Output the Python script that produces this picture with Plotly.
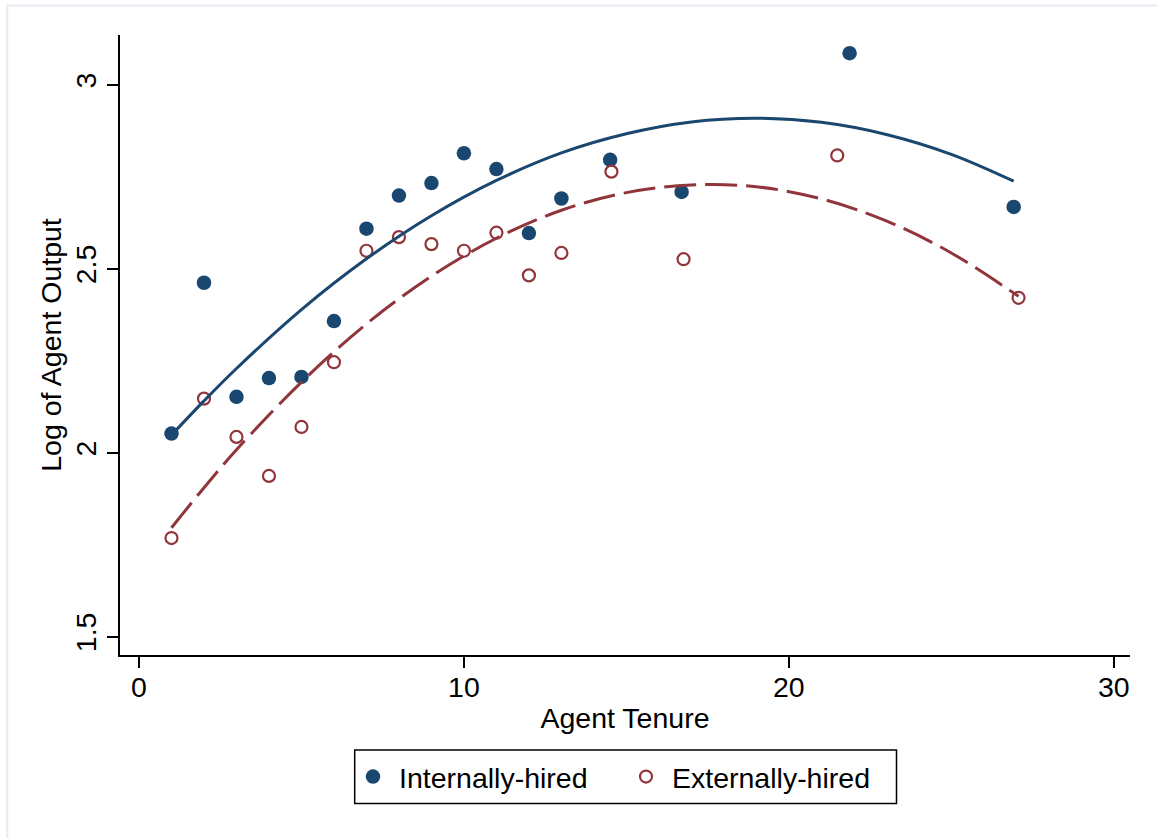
import plotly.graph_objects as go

# ---- data ----
int_tenure = [1, 2, 3, 4, 5, 6, 7, 8, 9, 10, 11, 12, 13, 14.5, 16.7, 21.87, 26.92]
int_output = [2.052, 2.462, 2.152, 2.203, 2.206, 2.358, 2.609, 2.699, 2.733, 2.814,
              2.771, 2.597, 2.691, 2.796, 2.709, 3.086, 2.668]

ext_tenure = [1, 2, 3, 4, 5, 6, 7, 8, 9, 10, 11, 12, 13, 14.54, 16.76, 21.49, 27.07]
ext_output = [1.768, 2.147, 2.043, 1.937, 2.070, 2.246, 2.549, 2.586, 2.567, 2.549,
              2.598, 2.482, 2.543, 2.764, 2.526, 2.808, 2.421]

# quadratic-fit curves
int_fit_x = [1, 2, 3, 5, 7, 9, 11, 13, 15, 17, 19, 21, 23, 25, 26.92]
int_fit_y = [2.048, 2.141, 2.229, 2.389, 2.527, 2.644, 2.740, 2.815, 2.867, 2.899,
             2.909, 2.898, 2.865, 2.811, 2.738]

ext_fit_x = [1, 2, 3, 5, 7, 9, 11, 13, 15, 17, 19, 21, 23, 25, 27.07]
ext_fit_y = [1.796, 1.905, 2.008, 2.192, 2.350, 2.480, 2.583, 2.659, 2.707, 2.728,
             2.723, 2.690, 2.630, 2.543, 2.425]

y_ticks = [1.5, 2, 2.5, 3]
y_tick_labels = ["1.5", "2", "2.5", "3"]
x_ticks = [0, 10, 20, 30]
x_tick_labels = ["0", "10", "20", "30"]

NAVY = "#1a476f"
MAROON = "#90353b"
FONT = "Liberation Sans, Arial, Helvetica, sans-serif"
FS = 28.5

fig = go.Figure()

fig.add_trace(go.Scatter(
    x=int_tenure, y=int_output, mode="markers", name="Internally-hired",
    marker=dict(color=NAVY, size=14.5, line=dict(width=0)),
))
fig.add_trace(go.Scatter(
    x=ext_tenure, y=ext_output, mode="markers", name="Externally-hired",
    marker=dict(symbol="circle-open", color=MAROON, size=12, line=dict(width=2.2, color=MAROON)),
))
fig.add_trace(go.Scatter(
    x=int_fit_x, y=int_fit_y, mode="lines", line_shape="spline", showlegend=False,
    line=dict(color=NAVY, width=3),
))
fig.add_trace(go.Scatter(
    x=ext_fit_x, y=ext_fit_y, mode="lines", line_shape="spline", showlegend=False,
    line=dict(color=MAROON, width=3, dash="32px,9px"),
))

L, R, T, B = 120, 27, 35, 183
W, H = 1157, 838
pw, ph = W - L - R, H - T - B

def px_to_paper_x(px):
    return (px - L) / pw

def py_to_paper_y(py):
    return (H - B - py) / ph

fig.update_layout(
    width=W, height=H,
    margin=dict(l=L, r=R, t=T, b=B, pad=0),
    paper_bgcolor="white", plot_bgcolor="white",
    font=dict(family=FONT, size=FS, color="black"),
    showlegend=True,
    legend=dict(
        orientation="h",
        x=px_to_paper_x(347), xanchor="left",
        y=py_to_paper_y(777), yanchor="middle",
        bgcolor="rgba(0,0,0,0)", borderwidth=0,
        font=dict(family=FONT, size=FS, color="black"),
        entrywidth=216,
        itemwidth=42,
    ),
    shapes=[
        dict(type="rect", xref="paper", yref="paper",
             x0=px_to_paper_x(354.7), x1=px_to_paper_x(896.5),
             y0=py_to_paper_y(750), y1=py_to_paper_y(803.5),
             line=dict(color="black", width=1.5), fillcolor="rgba(0,0,0,0)", layer="below"),
        dict(type="line", xref="paper", yref="paper",
             x0=px_to_paper_x(7), x1=px_to_paper_x(1157),
             y0=py_to_paper_y(5.5), y1=py_to_paper_y(5.5),
             line=dict(color="#e6ecf1", width=2)),
        dict(type="line", xref="paper", yref="paper",
             x0=px_to_paper_x(7.3), x1=px_to_paper_x(7.3),
             y0=py_to_paper_y(5), y1=py_to_paper_y(838),
             line=dict(color="#e6ecf1", width=2)),
    ],
)

fig.update_xaxes(
    range=[-0.585, 30.5],
    tickmode="array", tickvals=x_ticks, ticktext=x_tick_labels,
    showgrid=False, zeroline=False,
    showline=True, linecolor="black", linewidth=1.5,
    ticks="outside", ticklen=11, tickwidth=1.5, tickcolor="black",
    ticklabelstandoff=-5,
    tickfont=dict(family=FONT, size=FS, color="black"),
    title=dict(text="Agent Tenure", font=dict(family=FONT, size=FS, color="black"), standoff=6),
)
fig.update_yaxes(
    range=[1.4502, 3.1354],
    tickmode="array", tickvals=y_ticks, ticktext=y_tick_labels,
    tickangle=-90,
    showgrid=False, zeroline=False,
    showline=True, linecolor="black", linewidth=1.5,
    ticks="outside", ticklen=11, tickwidth=1.5, tickcolor="black",
    tickfont=dict(family=FONT, size=FS, color="black"),
    title=dict(text="Log of Agent Output", font=dict(family=FONT, size=FS, color="black"), standoff=0),
)

fig.write_html("out.html")
